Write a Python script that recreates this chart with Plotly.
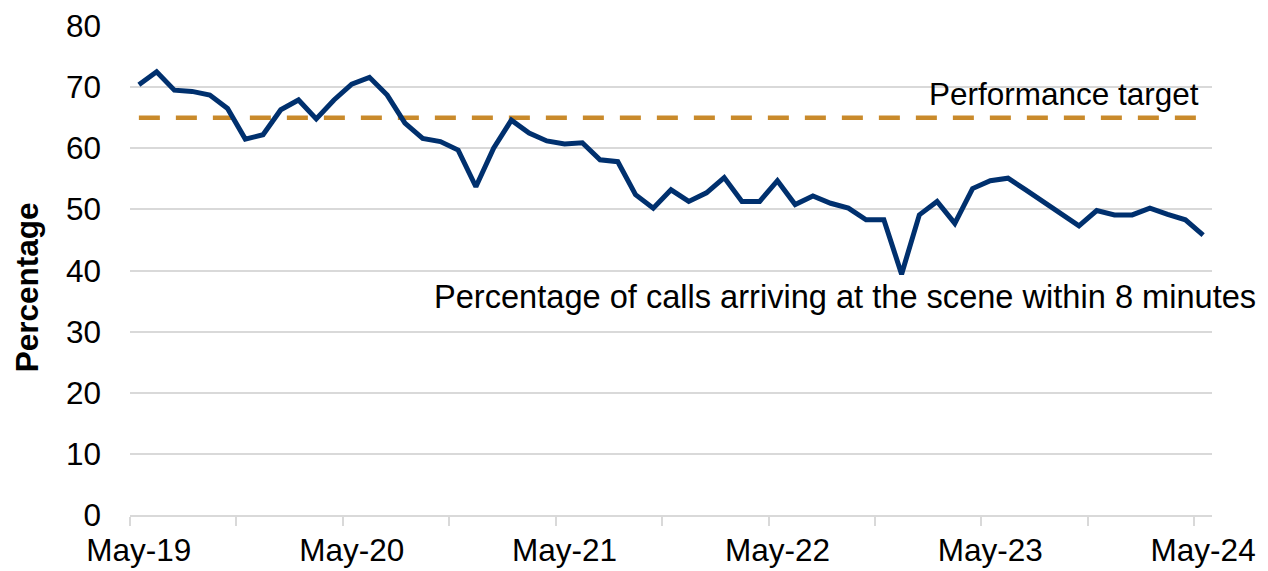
import pandas as pd
import plotly.graph_objects as go

# ---- data ----
months = list(pd.date_range("2019-05-01", periods=61, freq="MS").strftime("%b-%y"))
pct_within_8 = [70.4, 72.5, 69.5, 69.3, 68.7, 66.5, 61.5, 62.2, 66.3, 67.9, 64.8, 67.9,
                70.5, 71.6, 68.7, 64.1, 61.6, 61.1, 59.7, 53.7, 60.0, 64.6, 62.5, 61.2,
                60.7, 60.9, 58.1, 57.8, 52.4, 50.2, 53.2, 51.3, 52.7, 55.2, 51.3, 51.3,
                54.7, 50.8, 52.2, 51.0, 50.2, 48.3, 48.3, 39.4, 49.1, 51.3, 47.7, 53.4,
                54.7, 55.1, 53.2, 51.3, 49.2, 47.3, 49.8, 49.1, 49.1, 50.2, 49.2, 48.3,
                45.8]
target = [65] * len(months)
label_months = ["May-19", "May-20", "May-21", "May-22", "May-23", "May-24"]
y_ticks = [0, 10, 20, 30, 40, 50, 60, 70, 80]

FONT = "Liberation Sans, Arial, sans-serif"
FS = 31.5
NAVY = "#00306E"
GOLD = "#C98A2B"
GRID = "#D9D9D9"

pos = list(range(len(months)))
label_pos = [months.index(m) for m in label_months]
boundary_pos = [p - 0.5 for p in range(0, len(months), 6)]

fig = go.Figure()
fig.add_trace(go.Scatter(x=pos, y=target, mode="lines",
                         line=dict(color=GOLD, width=4.5, dash="21px,16px"),
                         hoverinfo="skip", showlegend=False))
fig.add_trace(go.Scatter(x=pos, y=pct_within_8, mode="lines",
                         line=dict(color=NAVY, width=5),
                         customdata=months, hovertemplate="%{customdata}: %{y}<extra></extra>",
                         showlegend=False))

fig.add_annotation(x=59.87, y=68.9, xref="x", yref="y", text="Performance target",
                   showarrow=False, xanchor="right", yanchor="middle",
                   font=dict(family=FONT, size=FS, color="black"))
fig.add_annotation(x=1.0425, y=35.7, xref="paper", yref="y",
                   text="Percentage of calls arriving at the scene within 8 minutes",
                   showarrow=False, xanchor="right", yanchor="middle",
                   font=dict(family=FONT, size=32.6, color="black"))
fig.add_annotation(x=-0.0955, y=0.465, xref="paper", yref="paper", text="<b>Percentage</b>",
                   showarrow=False, textangle=-90, xanchor="center", yanchor="middle",
                   font=dict(family=FONT, size=FS, color="black"))

# page body has an 8px default margin: figure is sized/offset to compensate
fig.update_layout(
    width=1260, height=563,
    margin=dict(l=122, r=56, t=18, b=56, autoexpand=False),
    paper_bgcolor="white", plot_bgcolor="white",
    font=dict(family=FONT, size=FS, color="black"),
    xaxis=dict(range=[-0.5, len(months) - 0.5], tickmode="array", automargin=False,
               tickvals=label_pos, ticktext=label_months, ticks="",
               showgrid=False, zeroline=False, showline=True, linecolor=GRID, linewidth=1.5,
               ticklabelstandoff=6,
               minor=dict(tickmode="array", tickvals=boundary_pos, ticks="outside",
                          ticklen=9, tickcolor=GRID, tickwidth=1.5, showgrid=False),
               tickfont=dict(family=FONT, size=FS, color="black")),
    yaxis=dict(range=[0, 80], tickmode="array", tickvals=y_ticks, ticks="", automargin=False,
               showgrid=True, gridcolor=GRID, gridwidth=1.5, zeroline=False,
               showline=False, ticklabelstandoff=28,
               tickfont=dict(family=FONT, size=FS, color="black")),
    showlegend=False,
)

fig.write_html("out.html")
